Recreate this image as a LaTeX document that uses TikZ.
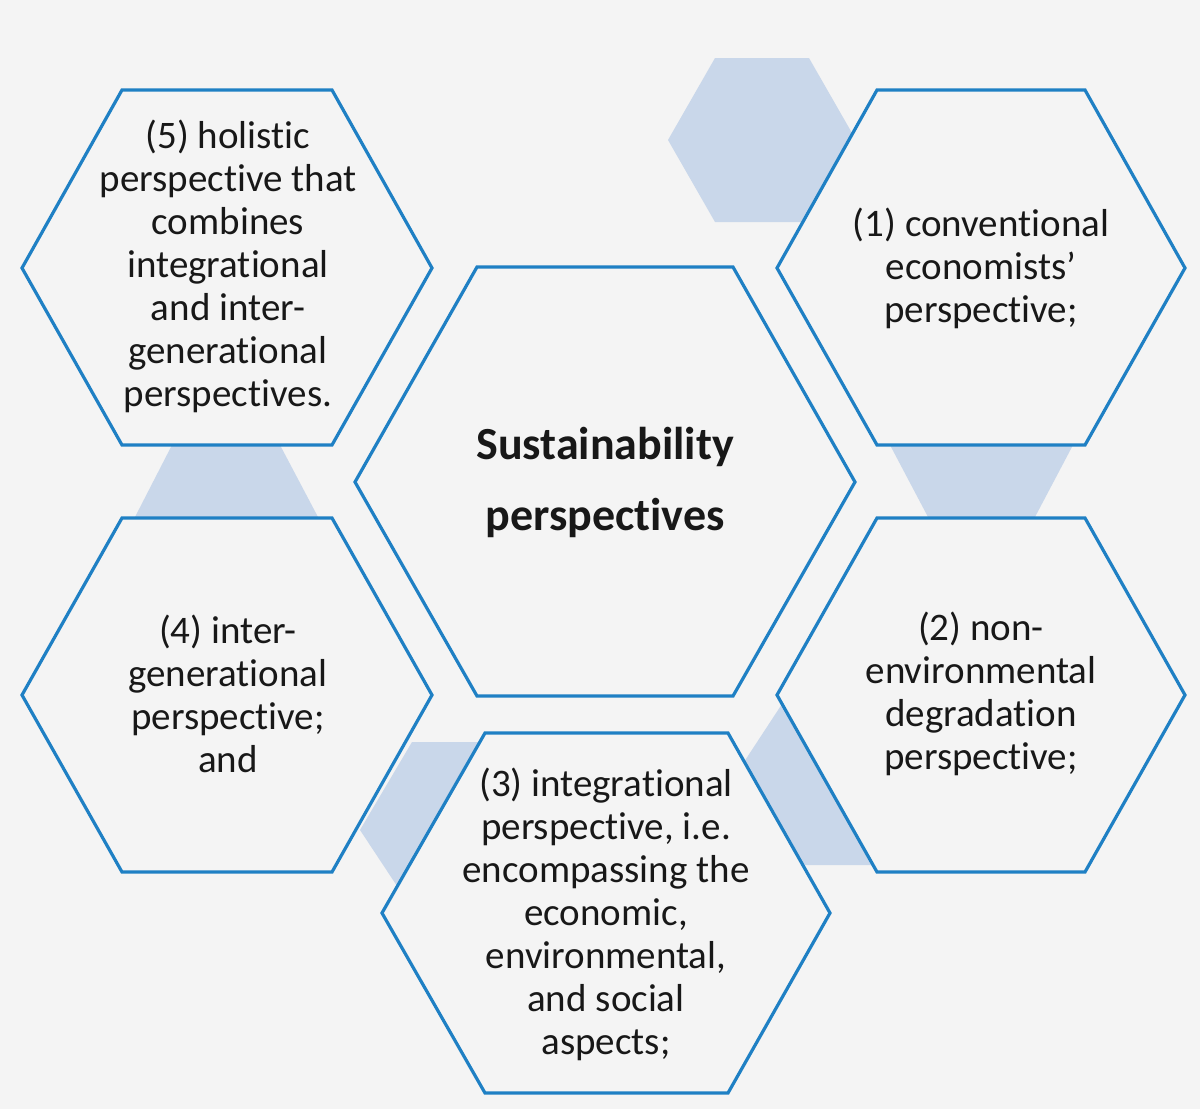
\documentclass[tikz,border=0pt]{standalone}
\usepackage{fontspec}
\setmainfont{Carlito}[Ligatures={NoCommon}]
\definecolor{bgc}{RGB}{244,244,244}
\definecolor{hexline}{RGB}{31,128,196}
\definecolor{hexfill}{RGB}{201,215,234}
\definecolor{txt}{RGB}{24,24,24}
\begin{document}
\begin{tikzpicture}[x=0.5pt,y=-0.5pt,
  hexshape/.style={draw=hexline,line width=1.6pt,fill=bgc,line join=miter},
  decor/.style={fill=hexfill,draw=none},
  label/.style={align=center,text=txt,font=\fontsize{19.5}{21.5}\selectfont,inner sep=0pt},
  title/.style={align=center,text=txt,font=\fontsize{23}{35.5}\selectfont\bfseries,inner sep=0pt}]
\fill[bgc] (0,0) rectangle (1200,1109);
\useasboundingbox (0,0) rectangle (1200,1109);
% decorative light hexagons / fragments
\path[decor] (668,140) -- (715,58) -- (809,58) -- (856,140) -- (809,222) -- (715,222) -- cycle;
\path[decor] (172,445) -- (280,445) -- (318,517) -- (135,517) -- cycle;
\path[decor] (890,445) -- (1073,445) -- (1035,517) -- (928,517) -- cycle;
\path[decor] (412,742) -- (485,742) -- (397,886) -- (360,830) -- cycle;
\path[decor] (782,704) -- (742,765) -- (801,865) -- (875,865) -- cycle;
% outlined hexagons
\draw[hexshape] (22,268) -- (122,90) -- (332,90) -- (432,268) -- (332,445) -- (122,445) -- cycle;
\draw[hexshape] (777,268) -- (877,90) -- (1085,90) -- (1185,268) -- (1085,445) -- (877,445) -- cycle;
\draw[hexshape] (355,482) -- (477,267) -- (733,267) -- (855,482) -- (733,696) -- (477,696) -- cycle;
\draw[hexshape] (22,695) -- (122,518) -- (332,518) -- (432,695) -- (332,872) -- (122,872) -- cycle;
\draw[hexshape] (777,695) -- (877,518) -- (1085,518) -- (1185,695) -- (1085,872) -- (877,872) -- cycle;
\draw[hexshape] (382,913) -- (485,733) -- (728,733) -- (830,913) -- (728,1093) -- (485,1093) -- cycle;
% texts
\node[label] (t5) at (228,266) {(5) holistic\\perspective that\\combines\\integrational\\and inter-\\generational\\perspectives.};
\node[label] (t1) at (981,268) {(1) conventional\\economists’\\perspective;};
\node[title] (tc) at (605,482) {Sustainability\\perspectives};
\node[label] (t4) at (228,694) {(4) inter-\\generational\\perspective;\\and};
\node[label] (t2) at (981,694) {(2) non-\\environmental\\degradation\\perspective;};
\node[label] (t3) at (606,914) {(3) integrational\\perspective, i.e.\\encompassing the\\economic,\\environmental,\\and social\\aspects;};
\end{tikzpicture}
\end{document}
